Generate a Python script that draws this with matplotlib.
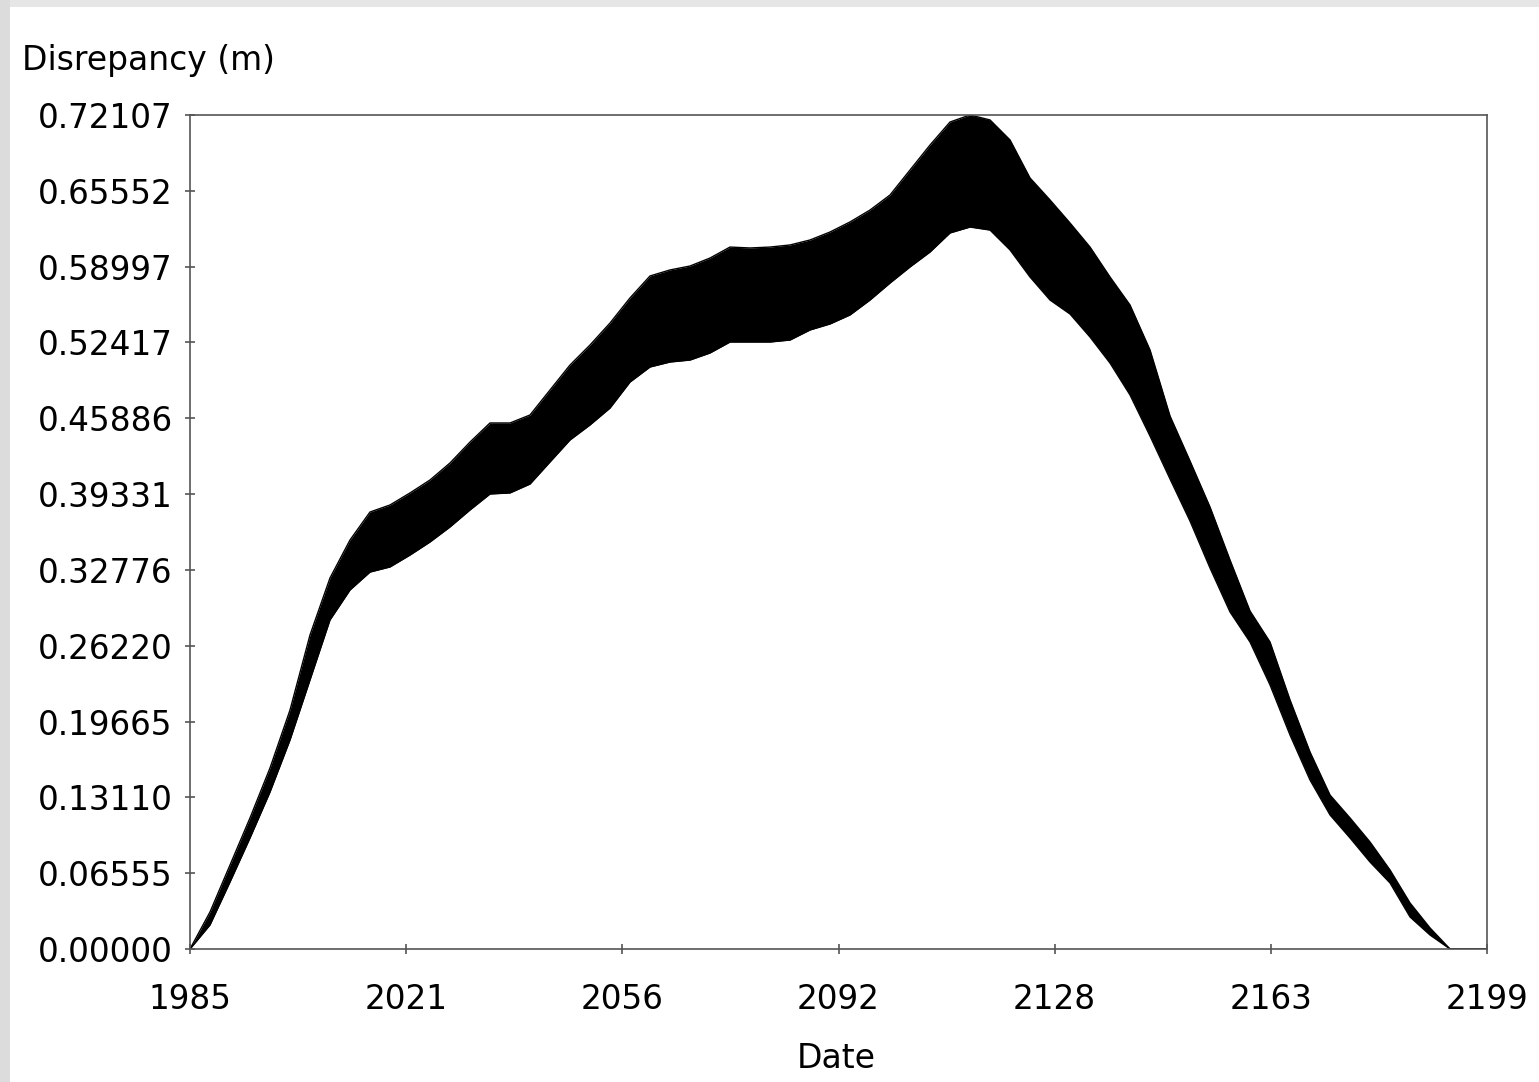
import matplotlib
matplotlib.use("Agg")
import matplotlib.pyplot as plt
from matplotlib.patches import Rectangle

# envelope of the oscillating disrepancy band
years = [1985.0, 1988.3, 1991.6, 1994.9, 1998.2, 2001.5, 2004.8, 2008.1, 2011.4, 2014.7,
         2018.0, 2021.3, 2024.6, 2027.9, 2031.2, 2034.5, 2037.8, 2041.1, 2044.4, 2047.7,
         2051.0, 2054.3, 2057.6, 2060.9, 2064.2, 2067.5, 2070.8, 2074.1, 2077.4, 2080.7,
         2084.0, 2087.3, 2090.6, 2093.9, 2097.2, 2100.5, 2103.8, 2107.1, 2110.4, 2113.7,
         2117.0, 2120.3, 2123.6, 2126.9, 2130.2, 2133.5, 2136.8, 2140.1, 2143.4, 2146.7,
         2150.0, 2153.3, 2156.6, 2159.9, 2163.2, 2166.5, 2169.8, 2173.1, 2176.4, 2179.7,
         2183.0, 2186.3, 2189.6, 2192.9, 2196.2, 2199.0]

upper = [0.0000, 0.0320, 0.0726, 0.1133, 0.1565, 0.2066, 0.2715, 0.3208, 0.3536, 0.3778,
         0.3839, 0.3943, 0.4055, 0.4202, 0.4383, 0.4548, 0.4548, 0.4617, 0.4833, 0.5049,
         0.5222, 0.5412, 0.5629, 0.5819, 0.5871, 0.5905, 0.5974, 0.6069, 0.6061, 0.6069,
         0.6087, 0.6130, 0.6199, 0.6286, 0.6389, 0.6519, 0.6735, 0.6951, 0.7150, 0.7211,
         0.7168, 0.6995, 0.6666, 0.6476, 0.6277, 0.6069, 0.5810, 0.5568, 0.5179, 0.4608,
         0.4219, 0.3821, 0.3363, 0.2922, 0.2654, 0.2153, 0.1703, 0.1331, 0.1133, 0.0925,
         0.0683, 0.0398, 0.0182, 0.0000, 0.0000, 0.0000]

lower = [0.0000, 0.0208, 0.0579, 0.0960, 0.1357, 0.1807, 0.2326, 0.2845, 0.3104, 0.3259,
         0.3303, 0.3406, 0.3519, 0.3649, 0.3796, 0.3934, 0.3943, 0.4020, 0.4211, 0.4401,
         0.4531, 0.4677, 0.4902, 0.5032, 0.5075, 0.5092, 0.5153, 0.5248, 0.5248, 0.5248,
         0.5265, 0.5352, 0.5404, 0.5482, 0.5611, 0.5758, 0.5897, 0.6026, 0.6191, 0.6242,
         0.6216, 0.6044, 0.5810, 0.5611, 0.5490, 0.5291, 0.5066, 0.4790, 0.4435, 0.4064,
         0.3700, 0.3294, 0.2914, 0.2654, 0.2283, 0.1850, 0.1461, 0.1159, 0.0960, 0.0752,
         0.0571, 0.0277, 0.0121, 0.0000, 0.0000, 0.0000]

ytick_labels = ["0.00000", "0.06555", "0.13110", "0.19665", "0.26220", "0.32776",
                "0.39331", "0.45886", "0.52417", "0.58997", "0.65552", "0.72107"]
xtick_labels = ["1985", "2021", "2056", "2092", "2128", "2163", "2199"]

y_max = 0.72107
x_min, x_max = 1985, 2199

fig = plt.figure(figsize=(15.39, 10.82), dpi=100)
fig.patch.set_facecolor("white")

# grey frame strips at the top and left edge
fig.patches.append(Rectangle((0, 1 - 7 / 1082), 1, 7 / 1082, transform=fig.transFigure,
                             fc="#e6e6e6", ec="none", zorder=0))
fig.patches.append(Rectangle((0, 0), 10 / 1539, 1, transform=fig.transFigure,
                             fc="#dcdcdc", ec="none", zorder=0))

ax = fig.add_axes([190 / 1539, 1 - 949 / 1082, 1297 / 1539, 834 / 1082])

ax.fill_between(years, lower, upper, color="black", lw=0)
ax.plot(years, upper, color="black", lw=1.0)
ax.plot(years, lower, color="black", lw=1.0)

ax.set_xlim(x_min, x_max)
ax.set_ylim(0, y_max)

n_y = len(ytick_labels)
ax.set_yticks([y_max * i / (n_y - 1) for i in range(n_y)])
ax.set_yticklabels(ytick_labels)
n_x = len(xtick_labels)
ax.set_xticks([x_min + (x_max - x_min) * i / (n_x - 1) for i in range(n_x)])
ax.set_xticklabels(xtick_labels)

for s in ax.spines.values():
    s.set_color("#555555")
    s.set_linewidth(1.2)

ax.tick_params(axis="both", direction="inout", length=7, width=1.2, color="#555555",
               labelsize=23.5, labelcolor="black")
ax.tick_params(axis="y", pad=9)
ax.tick_params(axis="x", pad=21)

fig.text(22 / 1539, 1 - 70 / 1082, "Disrepancy (m)", fontsize=23.8, ha="left", va="baseline")
fig.text(836 / 1539, 1 - 1068 / 1082, "Date", fontsize=23.8, ha="center", va="baseline")

fig.savefig("out.png", dpi=100)
